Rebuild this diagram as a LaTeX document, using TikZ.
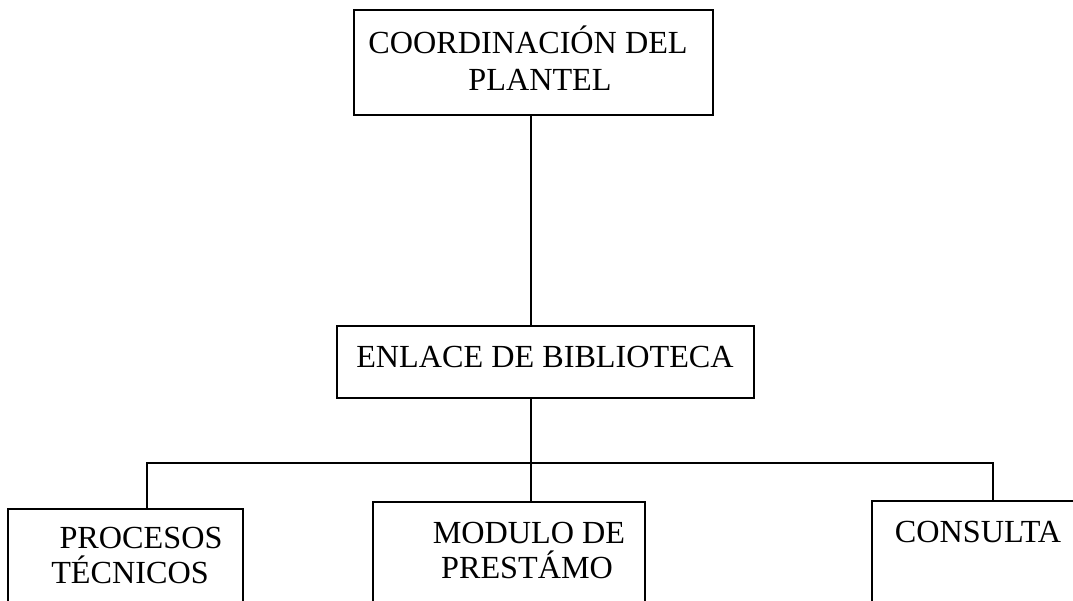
\documentclass[tikz,border=0pt]{standalone}
\usepackage{fontspec}
\setmainfont{Liberation Serif}
\begin{document}
\begin{tikzpicture}[x=1pt,y=-1pt,
  box/.style={draw=black,line width=1.3pt,inner sep=0pt,outer sep=0pt,anchor=north west},
  conn/.style={draw=black,line width=2pt},
  lbl/.style={inner sep=0pt,anchor=base,font=\fontsize{32.2}{38}\selectfont}]
\useasboundingbox (0,0) rectangle (1073,600);
\clip (0,0) rectangle (1073,600);
% boxes
\node[box,minimum width=359pt,minimum height=105pt] (top) at (354,10) {};
\node[box,minimum width=417pt,minimum height=72pt] (mid) at (337,326) {};
\node[box,minimum width=235pt,minimum height=120pt] (pt) at (8,509) {};
\node[box,minimum width=272pt,minimum height=120pt] (mp) at (373,502) {};
\node[box,minimum width=220pt,minimum height=120pt] (co) at (872,501) {};
% labels
\node[lbl] (t1) at (528,53) {COORDINACIÓN DEL};
\node[lbl] (t2) at (540,90) {PLANTEL};
\node[lbl] (m1) at (545,367) {ENLACE DE BIBLIOTECA};
\node[lbl] (p1) at (141,548) {PROCESOS};
\node[lbl] (p2) at (130,583) {TÉCNICOS};
\node[lbl] (d1) at (529,543) {MODULO DE};
\node[lbl] (d2) at (527,578) {PRESTÁMO};
\node[lbl] (c1) at (978,542) {CONSULTA};
% connector helpers
\coordinate (xa) at (531,0);
\coordinate (xl) at (147,0);
\coordinate (xr) at (993,0);
\coordinate (busy) at (0,463);
\coordinate (busl) at (busy -| xl);
\coordinate (busr) at (busy -| xr);
\coordinate (busc) at (busy -| xa);
% connectors
\draw[conn] (top.south -| xa) -- (mid.north -| xa);
\draw[conn] (mid.south -| xa) -- (busc);
\draw[conn] (pt.north -| xl) -- (busl) -- (busr) -- (co.north -| xr);
\draw[conn] (busc) -- (mp.north -| xa);
\end{tikzpicture}
\end{document}
